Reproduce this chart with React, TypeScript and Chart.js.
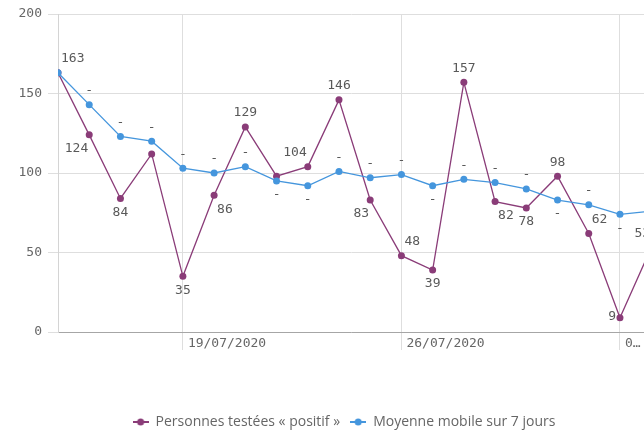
import { useEffect, useRef } from 'react';
import { Chart, registerables } from 'chart.js';

Chart.register(...registerables);

const dates = [
  '15/07/2020', '16/07/2020', '17/07/2020', '18/07/2020', '19/07/2020',
  '20/07/2020', '21/07/2020', '22/07/2020', '23/07/2020', '24/07/2020',
  '25/07/2020', '26/07/2020', '27/07/2020', '28/07/2020', '29/07/2020',
  '30/07/2020', '31/07/2020', '01/08/2020', '02/08/2020', '03/08/2020',
];
const positives = [163, 124, 84, 112, 35, 86, 129, 98, 104, 146, 83, 48, 39, 157, 82, 78, 98, 62, 9, 53];
const movingAverage = [163, 143, 123, 120, 103, 100, 104, 95, 92, 101, 97, 99, 92, 96, 94, 90, 83, 80, 74, 76];
const seriesNames = ['Personnes testées « positif »', 'Moyenne mobile sur 7 jours'];
const xTickLabels = ['19/07/2020', '26/07/2020', '02/08/2020'];
const yTicks = [0, 50, 100, 150, 200];

// label placement: a=above, b=below, ar/al=above right/left, br/bl=below right/left, l=left, ''=hidden
const positivesLabelPos = ['ar', 'bl', 'b', '', 'b', 'br', 'a', '', 'al', 'a', 'bl', 'ar', 'b', 'a', 'br', 'b', 'a', 'ar', 'l', 'al'];
const averageLabelPos = ['', 'a', 'a', 'a', 'a', 'a', 'a', 'b', 'b', 'a', 'a', 'a', 'b', 'a', 'a', 'a', 'b', 'a', 'b', 'a'];

const PURPLE = '#8a3c78';
const BLUE = '#4596dd';
const MONO = 'DejaVu Sans Mono';

function makeMarker(color: string): HTMLCanvasElement {
  const c = document.createElement('canvas');
  c.width = 16;
  c.height = 8;
  const g = c.getContext('2d')!;
  g.strokeStyle = color;
  g.lineWidth = 2;
  g.beginPath();
  g.moveTo(0, 4);
  g.lineTo(16, 4);
  g.stroke();
  g.fillStyle = color;
  g.beginPath();
  g.arc(8, 4, 3.5, 0, Math.PI * 2);
  g.fill();
  return c;
}

function fitText(ctx: CanvasRenderingContext2D, text: string, maxW: number): string {
  if (ctx.measureText(text).width <= maxW) return text;
  let t = text;
  while (t.length > 1 && ctx.measureText(t + '…').width > maxW) t = t.slice(0, -1);
  return t + '…';
}

const labelsPlugin = {
  id: 'pointLabels',
  afterLayout(chart: any) {
    const lg = chart.legend;
    if (lg) {
      lg.left -= 7;
      lg.right -= 7;
    }
  },
  afterDatasetsDraw(chart: any) {
    const ctx: CanvasRenderingContext2D = chart.ctx;
    ctx.save();
    ctx.font = `13px "${MONO}"`;
    ctx.fillStyle = '#595959';
    ctx.textBaseline = 'middle';
    chart.data.datasets.forEach((ds: any, di: number) => {
      const meta = chart.getDatasetMeta(di);
      const pos: string[] = ds.labelPos;
      meta.data.forEach((pt: any, i: number) => {
        const p = pos[i];
        if (!p) return;
        const text = ds.showValues ? String(ds.data[i].y) : '-';
        let x = pt.x;
        let y = pt.y;
        let align: CanvasTextAlign = 'center';
        if (p[0] === 'a') y -= 14;
        if (p[0] === 'b') y += 14;
        if (p === 'ar' || p === 'br') { align = 'left'; x += 3; }
        if (p === 'al' || p === 'bl') { align = 'right'; x -= 1; }
        if (p === 'l') { align = 'right'; x -= 4; y -= 1; }
        ctx.textAlign = align;
        ctx.fillText(text, x, y);
      });
    });
    ctx.restore();
  },
  afterDraw(chart: any) {
    const ctx: CanvasRenderingContext2D = chart.ctx;
    const xs = chart.scales.x;
    ctx.save();
    ctx.font = `13px "${MONO}"`;
    ctx.fillStyle = '#666666';
    ctx.textBaseline = 'middle';
    ctx.textAlign = 'left';
    xTickLabels.forEach((lbl) => {
      const px = xs.getPixelForValue(dates.indexOf(lbl)) + 5;
      const avail = chart.width - px - 2;
      ctx.fillText(fitText(ctx, lbl, avail), px, chart.chartArea.bottom + 12);
    });
    ctx.restore();
  },
};

export default function App() {
  const ref = useRef<HTMLCanvasElement>(null);

  useEffect(() => {
    if (!ref.current) return;
    const markers = [makeMarker(PURPLE), makeMarker(BLUE)];
    const chart = new Chart(ref.current, {
      type: 'line',
      data: {
        datasets: [
          {
            label: seriesNames[0],
            data: positives.map((v, i) => ({ x: i, y: v })),
            borderColor: PURPLE,
            backgroundColor: PURPLE,
            pointBackgroundColor: PURPLE,
            borderWidth: 1.3,
            pointRadius: 3.5,
            pointBorderWidth: 0,
            tension: 0,
            order: 2,
            labelPos: positivesLabelPos,
            showValues: true,
          } as any,
          {
            label: seriesNames[1],
            data: movingAverage.map((v, i) => ({ x: i, y: v })),
            borderColor: BLUE,
            backgroundColor: BLUE,
            pointBackgroundColor: BLUE,
            borderWidth: 1.3,
            pointRadius: 3.5,
            pointBorderWidth: 0,
            tension: 0,
            order: 1,
            labelPos: averageLabelPos,
            showValues: false,
          } as any,
        ],
      },
      options: {
        animation: false,
        responsive: false,
        layout: { autoPadding: false, padding: { top: 14, left: 0, right: 0, bottom: -2 } },
        scales: {
          x: {
            type: 'linear',
            min: 0,
            max: 18.77,
            afterBuildTicks: (s: any) => {
              s.ticks = xTickLabels.map((l) => ({ value: dates.indexOf(l) }));
            },
            afterFit: (s: any) => {
              s.height = 73;
            },
            ticks: { display: false },
            grid: { color: '#dedede', tickColor: '#dedede', tickLength: 18 },
            border: { color: '#a6a6a6' },
          },
          y: {
            min: 0,
            max: 200,
            afterBuildTicks: (s: any) => {
              s.ticks = yTicks.map((v) => ({ value: v }));
            },
            afterFit: (s: any) => {
              s.width = 58;
            },
            ticks: { font: { family: MONO, size: 13 }, color: '#666666', padding: 6 },
            grid: { color: '#dedede', tickColor: '#dedede', tickLength: 10 },
            border: { color: '#d4d4d4' },
          },
        },
        plugins: {
          tooltip: { enabled: false },
          legend: {
            position: 'bottom',
            fullSize: false,
            labels: {
              usePointStyle: true,
              pointStyleWidth: 16,
              padding: 10,
              color: '#666666',
              font: { family: 'Open Sans', size: 14 },
              generateLabels: (c: any) => {
                const items = (Chart.defaults.plugins.legend.labels.generateLabels as any)(c);
                return items
                  .sort((a: any, b: any) => a.datasetIndex - b.datasetIndex)
                  .map((it: any) => ({ ...it, pointStyle: markers[it.datasetIndex] }));
              },
            },
          },
        },
      },
      plugins: [labelsPlugin],
    });
    return () => chart.destroy();
  }, []);

  return (
    <div style={{ position: 'absolute', left: 0, top: 0, width: 644, height: 437, overflow: 'hidden' }}>
      <canvas ref={ref} width={644} height={437} />
    </div>
  );
}
